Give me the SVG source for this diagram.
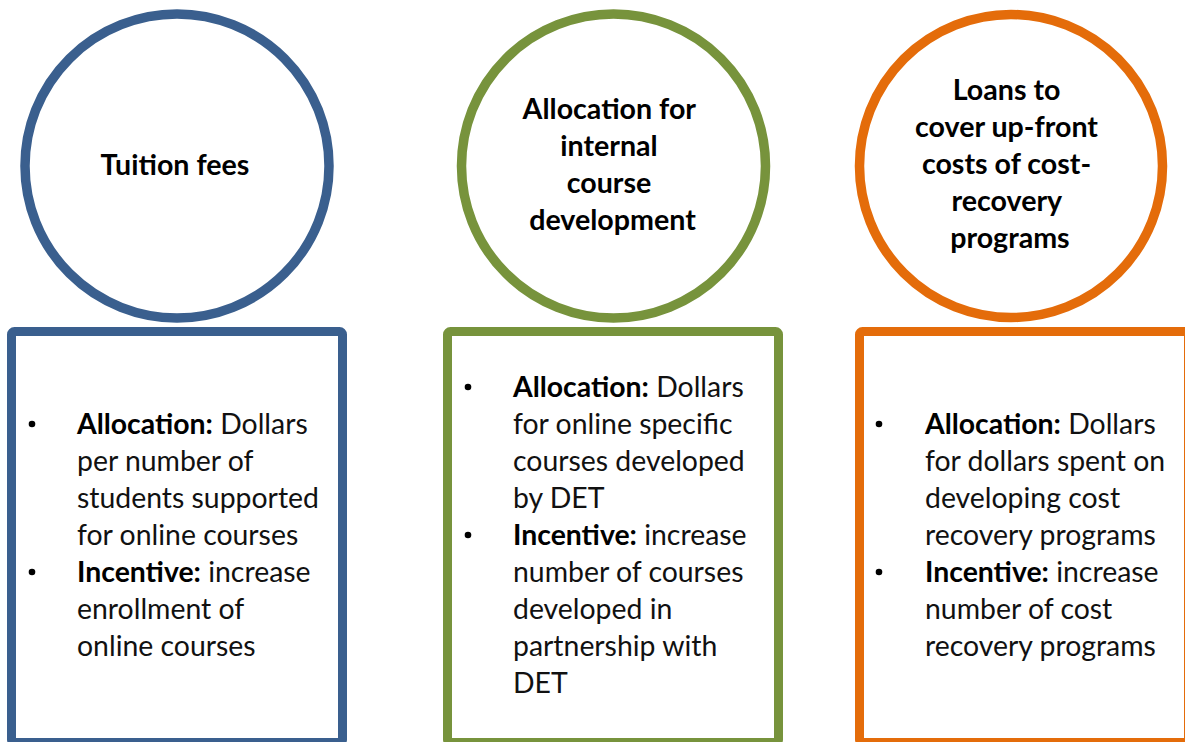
<svg xmlns="http://www.w3.org/2000/svg" width="1185" height="742" viewBox="0 0 1185 742">
  <style>
    .ring { fill: #ffffff; stroke-width: 9.5; }
    .box { fill: #ffffff; stroke-width: 9; }
    .blue { stroke: #3A5F8E; }
    .green { stroke: #77933C; }
    .orange { stroke: #E46C0A; }
    .title { font-family: Lato, "Liberation Sans", sans-serif; font-weight: bold; font-size: 28.6px; fill: #000000; text-anchor: middle; }
    .body { font-family: Lato, "Liberation Sans", sans-serif; font-size: 28.4px; fill: #111111; }
    .body tspan.b { font-weight: bold; fill: #000000; }
    .dot { fill: #000000; }
  </style>
  <rect x="0" y="0" width="1185" height="742" fill="#ffffff"/>

  <!-- Column 1: tuition fees -->
  <g id="tuition-circle">
    <circle class="ring blue" cx="177" cy="166" r="152"/>
    <text class="title" x="175" y="175">Tuition fees</text>
  </g>
  <g id="tuition-box">
    <rect class="box blue" x="11.5" y="331.5" width="331" height="411" rx="3"/>
    <circle class="dot" cx="32" cy="424" r="3.3"/>
    <circle class="dot" cx="32" cy="572" r="3.3"/>
    <text class="body">
      <tspan x="77" y="434"><tspan class="b">Allocation:</tspan> Dollars</tspan>
      <tspan x="77" y="471">per number of</tspan>
      <tspan x="77" y="508">students supported</tspan>
      <tspan x="77" y="545">for online courses</tspan>
      <tspan x="77" y="582"><tspan class="b">Incentive:</tspan> increase</tspan>
      <tspan x="77" y="619">enrollment of</tspan>
      <tspan x="77" y="656">online courses</tspan>
    </text>
  </g>

  <!-- Column 2: internal course development -->
  <g id="allocation-circle">
    <circle class="ring green" cx="613.5" cy="166" r="152"/>
    <text class="title">
      <tspan x="612.5" y="119">Allocation for</tspan>
      <tspan x="612.5" y="156">internal</tspan>
      <tspan x="612.5" y="193">course</tspan>
      <tspan x="612.5" y="230">development</tspan>
    </text>
  </g>
  <g id="allocation-box">
    <rect class="box green" x="447.5" y="331.5" width="331" height="411" rx="3"/>
    <circle class="dot" cx="468" cy="387" r="3.3"/>
    <circle class="dot" cx="468" cy="535" r="3.3"/>
    <text class="body">
      <tspan x="513" y="397"><tspan class="b">Allocation:</tspan> Dollars</tspan>
      <tspan x="513" y="434">for online specific</tspan>
      <tspan x="513" y="471">courses developed</tspan>
      <tspan x="513" y="508">by DET</tspan>
      <tspan x="513" y="545"><tspan class="b">Incentive:</tspan> increase</tspan>
      <tspan x="513" y="582">number of courses</tspan>
      <tspan x="513" y="619">developed in</tspan>
      <tspan x="513" y="656">partnership with</tspan>
      <tspan x="513" y="693">DET</tspan>
    </text>
  </g>

  <!-- Column 3: loans for cost-recovery programs -->
  <g id="loans-circle">
    <circle class="ring orange" cx="1011" cy="166" r="151.5"/>
    <text class="title">
      <tspan x="1010" y="100">Loans to</tspan>
      <tspan x="1010" y="137">cover up-front</tspan>
      <tspan x="1010" y="174">costs of cost-</tspan>
      <tspan x="1010" y="211">recovery</tspan>
      <tspan x="1010" y="248">programs</tspan>
    </text>
  </g>
  <g id="loans-box">
    <rect class="box orange" x="859.5" y="331.5" width="329" height="411" rx="3"/>
    <circle class="dot" cx="879" cy="424" r="3.3"/>
    <circle class="dot" cx="879" cy="572" r="3.3"/>
    <text class="body">
      <tspan x="925" y="434"><tspan class="b">Allocation:</tspan> Dollars</tspan>
      <tspan x="925" y="471">for dollars spent on</tspan>
      <tspan x="925" y="508">developing cost</tspan>
      <tspan x="925" y="545">recovery programs</tspan>
      <tspan x="925" y="582"><tspan class="b">Incentive:</tspan> increase</tspan>
      <tspan x="925" y="619">number of cost</tspan>
      <tspan x="925" y="656">recovery programs</tspan>
    </text>
  </g>

  <!-- no connectors between the columns -->
  <g id="connectors"/>
</svg>
